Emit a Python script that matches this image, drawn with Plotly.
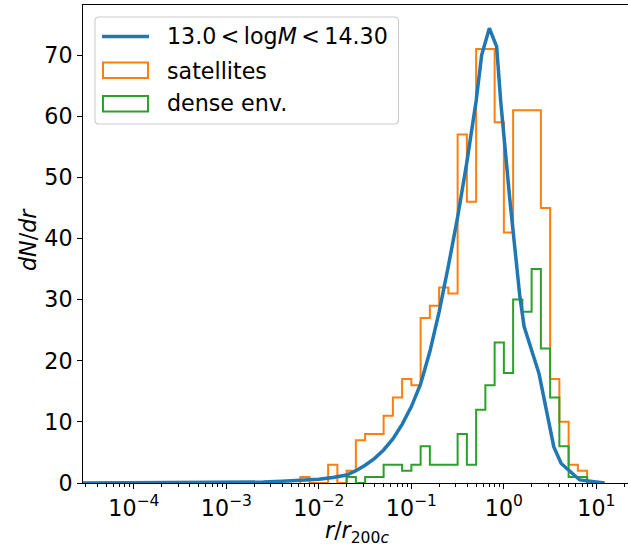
import numpy as np
import plotly.graph_objects as go

# ---------------- data ----------------
# model curve (log10 r/r200c, dN/dr)
model_logr = [-4.55, -3.5, -3.0, -2.6, -2.4, -2.2, -2.0, -1.85, -1.7, -1.6, -1.5, -1.4,
              -1.3, -1.2, -1.1, -1.0, -0.9, -0.8, -0.7, -0.6, -0.5, -0.4, -0.3,
              -0.24, -0.157, -0.078, -0.035, 0.065, 0.173, 0.219, 0.38, 0.54, 0.62,
              0.82, 1.09]
model_dndr = [0.0, 0.01, 0.05, 0.15, 0.3, 0.4, 0.6, 0.9, 1.3, 2.0, 2.9, 4.0,
              5.4, 7.2, 9.6, 12.5, 16.2, 21.5, 28.0, 35.5, 43.5, 52.5, 62.5,
              70.0, 74.4, 71.4, 62.6, 46.3, 30.5, 25.6, 17.9, 5.9, 3.2,
              0.5, 0.0]

# histograms, 0.1 dex bins in log10 r
sat_first_edge = -2.2
sat_counts = [1, 0, 0, 3, 0, 2, 7, 8, 8, 11, 14, 17, 16, 27, 29, 32, 31, 57, 46,
              71, 71, 59, 41, 61, 61, 61, 45, 17, 10, 3, 2]
dense_first_edge = -1.7
dense_counts = [1, 0, 1, 1, 3, 3, 2, 3, 6, 3, 3, 3, 8, 3, 12, 16, 23, 18, 30, 28,
                35, 22, 14, 6, 1, 1]
bin_width = 0.1

TS = "\u2009"
label_model = f"13.0{TS}<{TS}log<i>M</i>{TS}<{TS}14.30"
label_sat = "satellites"
label_dense = "dense env."

BLUE = "#1f77b4"
ORANGE = "#ff7f0e"
GREEN = "#2ca02c"

W, H = 628, 550
L, R, T, B = 83, 628, 5, 483   # plot area in pixels
FS = 22.2


def step_xy(first_edge, counts):
    edges = [10 ** round(first_edge + bin_width * i, 3) for i in range(len(counts) + 1)]
    xs = [edges[0]] + edges + [edges[-1]]
    ys = [0] + list(counts) + [counts[-1], 0]
    return xs, ys


fig = go.Figure()
xs, ys = step_xy(sat_first_edge, sat_counts)
fig.add_trace(go.Scatter(x=xs, y=ys, mode="lines", line=dict(color=ORANGE, width=2, shape="hv"),
                         showlegend=False))
xs, ys = step_xy(dense_first_edge, dense_counts)
fig.add_trace(go.Scatter(x=xs, y=ys, mode="lines", line=dict(color=GREEN, width=2, shape="hv"),
                         showlegend=False))
fig.add_trace(go.Scatter(x=[10 ** v for v in model_logr], y=model_dndr, mode="lines",
                         line=dict(color=BLUE, width=3.5), showlegend=False))

minor_vals = [k * 10.0 ** e for e in range(-5, 2) for k in range(2, 10)]

fig.update_xaxes(type="log", range=[-4.55, 1.342], showgrid=False, zeroline=False,
                 showline=True, linecolor="black", linewidth=1.1, mirror=True,
                 ticks="outside", ticklen=5, tickwidth=1.1, tickcolor="black",
                 tickvals=[1e-4, 1e-3, 1e-2, 1e-1, 1, 10],
                 ticktext=["10<sup>−4</sup>", "10<sup>−3</sup>", "10<sup>−2</sup>",
                           "10<sup>−1</sup>", "10<sup>0</sup>", "10<sup>1</sup>"],
                 tickfont=dict(size=FS, color="black"),
                 minor=dict(ticks="outside", ticklen=3, tickwidth=0.9, tickcolor="black",
                            tickmode="array", tickvals=minor_vals),
                 layer="below traces")
fig.update_yaxes(range=[0, 78.2], showgrid=False, zeroline=False,
                 showline=True, linecolor="black", linewidth=1.1, mirror=False,
                 ticks="outside", ticklen=5, tickwidth=1.1, tickcolor="black",
                 tickvals=[0, 10, 20, 30, 40, 50, 60, 70],
                 tickfont=dict(size=FS, color="black"), layer="below traces")


def px(x):
    return (x - L) / (R - L)


def py(y):
    return (B - y) / (B - T)


shapes = []
annotations = []
# legend box with rounded corners
x0, x1, y0, y1, r = 95, 398.5, 17, 124, 4
path = (f"M {px(x0 + r)} {py(y0)} L {px(x1 - r)} {py(y0)} Q {px(x1)} {py(y0)} {px(x1)} {py(y0 + r)} "
        f"L {px(x1)} {py(y1 - r)} Q {px(x1)} {py(y1)} {px(x1 - r)} {py(y1)} "
        f"L {px(x0 + r)} {py(y1)} Q {px(x0)} {py(y1)} {px(x0)} {py(y1 - r)} "
        f"L {px(x0)} {py(y0 + r)} Q {px(x0)} {py(y0)} {px(x0 + r)} {py(y0)} Z")
shapes.append(dict(type="path", xref="paper", yref="paper", path=path,
                   fillcolor="rgba(255,255,255,0.8)", line=dict(color="#cccccc", width=1.1)))
shapes.append(dict(type="line", xref="paper", yref="paper", x0=px(102), x1=px(149),
                   y0=py(36.5), y1=py(36.5), line=dict(color=BLUE, width=3.5)))
shapes.append(dict(type="rect", xref="paper", yref="paper", x0=px(103), x1=px(148),
                   y0=py(62.5), y1=py(78), line=dict(color=ORANGE, width=2)))
shapes.append(dict(type="rect", xref="paper", yref="paper", x0=px(103), x1=px(148),
                   y0=py(96), y1=py(111.5), line=dict(color=GREEN, width=2)))
for txt, yy in [(label_model, 36), (label_sat, 71), (label_dense, 103)]:
    annotations.append(dict(text=txt, xref="paper", yref="paper", x=px(165), y=py(yy),
                            xanchor="left", yanchor="middle", showarrow=False,
                            font=dict(size=FS, color="black")))
# axis titles
annotations.append(dict(text="<i>dN</i>/<i>dr</i>", xref="paper", yref="paper",
                        x=px(28), y=py(240), xanchor="center", yanchor="middle",
                        textangle=-90, showarrow=False, font=dict(size=FS, color="black")))
annotations.append(dict(text="<i>r</i>/<i>r</i><sub>200<i>c</i></sub>", xref="paper", yref="paper",
                        x=px(357), y=py(532), xanchor="center", yanchor="middle",
                        showarrow=False, font=dict(size=FS, color="black")))

fig.update_layout(width=W, height=H, margin=dict(l=L, r=W - R, t=T, b=H - B),
                  paper_bgcolor="white", plot_bgcolor="white",
                  font=dict(family="DejaVu Sans", size=FS, color="black"),
                  shapes=shapes, annotations=annotations, showlegend=False)

fig.write_html("out.html")
